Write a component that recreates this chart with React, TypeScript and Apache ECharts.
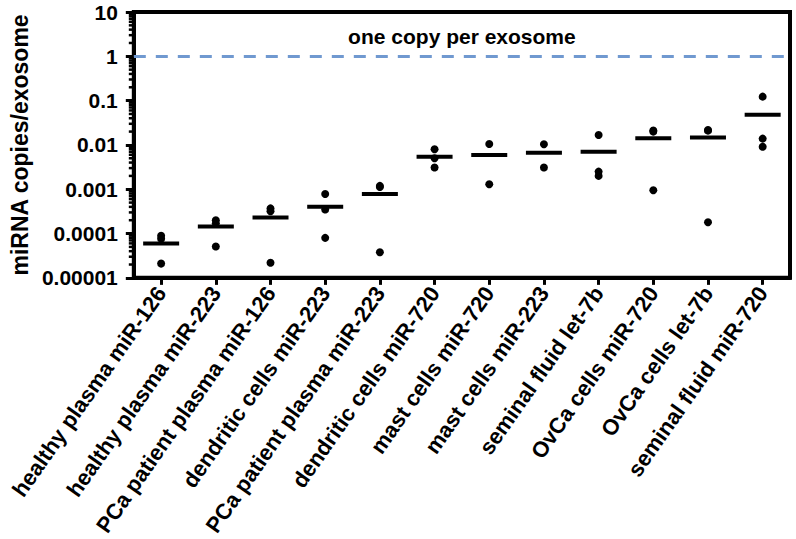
import React, { useEffect, useRef } from "react";
import * as echarts from "echarts";

const categories = [
  "healthy plasma miR-126",
  "healthy plasma miR-223",
  "PCa patient plasma miR-126",
  "dendritic cells miR-223",
  "PCa patient plasma miR-223",
  "dendritic cells miR-720",
  "mast cells miR-720",
  "mast cells miR-223",
  "seminal fluid let-7b",
  "OvCa cells miR-720",
  "OvCa cells let-7b",
  "seminal fluid miR-720",
];

const sampleA = [8.9e-5, 2.0e-4, 3.7e-4, 7.8e-4, 1.19e-3, 8.0e-3, 1.05e-2, 1.04e-2, 1.68e-2, 2.12e-2, 2.18e-2, 1.23e-1];
const sampleB = [7.6e-5, 1.7e-4, 3.2e-4, 3.5e-4, 1.12e-3, 5.0e-3, 1.3e-3, 3.1e-3, 2.5e-3, 2.0e-2, 2.1e-2, 1.39e-2];
const sampleC = [2.1e-5, 5.1e-5, 2.2e-5, 8.0e-5, 3.8e-5, 3.1e-3, null, null, 2.0e-3, 9.5e-4, 1.8e-4, 9.1e-3];
const means = [6.0e-5, 1.44e-4, 2.3e-4, 4.05e-4, 7.8e-4, 5.4e-3, 5.9e-3, 6.7e-3, 7.0e-3, 1.41e-2, 1.48e-2, 4.8e-2];

const yTickLabels = ["0.00001", "0.0001", "0.001", "0.01", "0.1", "1", "10"];
const referenceLevel = 1;
const referenceLabel = "one copy per exosome";
const yAxisName = "miRNA copies/exosome";
const minorMultipliers = [2, 3, 4, 5, 6, 7, 8, 9];
const decadeStarts = [1e-5, 1e-4, 1e-3, 1e-2, 1e-1, 1];

const FONT = "'Liberation Sans', Arial, Helvetica, sans-serif";

export default function App() {
  const ref = useRef<HTMLDivElement>(null);

  useEffect(() => {
    if (!ref.current) return;
    const chart = echarts.init(ref.current, undefined, { renderer: "svg" });

    const points: any[] = [];
    [sampleA, sampleB, sampleC].forEach((arr) => {
      arr.forEach((v, i) => {
        if (v != null) points.push([i, v]);
      });
    });

    const minorTicks: any[] = [];
    decadeStarts.forEach((d) => minorMultipliers.forEach((m) => minorTicks.push([0, d * m])));

    const option: any = {
      animation: false,
      backgroundColor: "#ffffff",
      grid: {
        left: 127,
        right: 6,
        top: 12,
        bottom: 261,
        show: true,
        borderColor: "#000",
        borderWidth: 4,
        containLabel: false,
      },
      xAxis: {
        type: "category",
        data: categories,
        boundaryGap: true,
        axisLine: { show: true, lineStyle: { color: "#000", width: 4 } },
        axisTick: { show: true, alignWithLabel: true, length: 7, lineStyle: { color: "#000", width: 3 } },
        axisLabel: {
          interval: 0,
          rotate: 55,
          margin: 11,
          color: "#000",
          fontFamily: FONT,
          fontWeight: "bold",
          fontSize: 22,
        },
        splitLine: { show: false },
      },
      yAxis: {
        type: "log",
        logBase: 10,
        min: 1e-5,
        max: 10,
        splitNumber: 6,
        name: yAxisName,
        nameLocation: "middle",
        nameGap: 94,
        nameTextStyle: { color: "#000", fontFamily: FONT, fontWeight: "bold", fontSize: 23 },
        axisLine: { show: true, lineStyle: { color: "#000", width: 4 } },
        axisTick: { show: true, length: 8, lineStyle: { color: "#000", width: 3 } },
        axisLabel: {
          margin: 16,
          color: "#000",
          fontFamily: FONT,
          fontWeight: "bold",
          fontSize: 21,
          formatter: (v: number) => {
            const e = Math.round(Math.log10(v));
            return yTickLabels[e + 5] ?? "";
          },
        },
        splitLine: { show: false },
      },
      series: [
        {
          type: "custom",
          name: "minorTicks",
          clip: false,
          silent: true,
          data: minorTicks,
          renderItem: (params: any, api: any) => {
            const y = api.coord([0, api.value(1)])[1];
            const left = params.coordSys.x;
            return {
              type: "line",
              shape: { x1: left - 5, y1: y, x2: left, y2: y },
              style: { stroke: "#000", lineWidth: 2.5 },
            };
          },
          z: 5,
        },
        {
          type: "scatter",
          name: "samples",
          data: points,
          symbol: "circle",
          symbolSize: 8,
          itemStyle: { color: "#000", opacity: 1 },
          z: 4,
        },
        {
          type: "scatter",
          name: "mean",
          data: means.map((v, i) => [i, v]),
          symbol: "rect",
          symbolSize: [36, 4],
          itemStyle: { color: "#000", opacity: 1 },
          z: 4,
          markLine: {
            silent: true,
            symbol: ["none", "none"],
            lineStyle: { color: "#7099d0", width: 3, type: [12, 10], opacity: 1 },
            label: {
              show: true,
              position: "insideMiddleTop",
              formatter: referenceLabel,
              color: "#000",
              fontFamily: FONT,
              fontWeight: "bold",
              fontSize: 21,
              distance: 9,
            },
            data: [{ yAxis: referenceLevel }],
          },
        },
      ],
    };

    chart.setOption(option);
    return () => chart.dispose();
  }, []);

  return (
    <div
      ref={ref}
      style={{ position: "fixed", left: 0, top: 0, width: 796, height: 539, background: "#fff" }}
    />
  );
}
